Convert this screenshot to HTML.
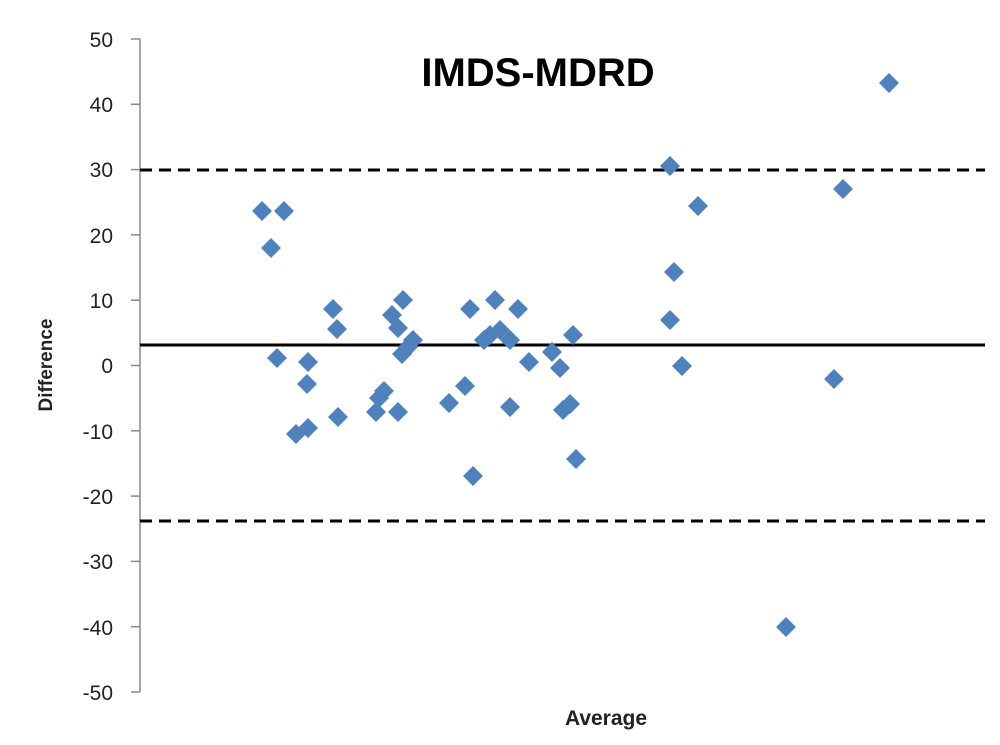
<!DOCTYPE html><html><head><style>body{margin:0;background:#fff}svg{display:block}</style></head><body>
<svg width="1000" height="745" xmlns="http://www.w3.org/2000/svg" font-family="Liberation Sans, sans-serif">
<defs><path id="d" d="M0,-10L10,0L0,10L-10,0Z" fill="#4f81bd"/></defs>
<line x1="140" y1="39" x2="140" y2="692" stroke="#888" stroke-width="1.5"/>
<g stroke="#888" stroke-width="1.5">
<line x1="131" y1="39" x2="140" y2="39"/><line x1="131" y1="104.3" x2="140" y2="104.3"/><line x1="131" y1="169.6" x2="140" y2="169.6"/><line x1="131" y1="234.9" x2="140" y2="234.9"/><line x1="131" y1="300.2" x2="140" y2="300.2"/><line x1="131" y1="365.5" x2="140" y2="365.5"/><line x1="131" y1="430.8" x2="140" y2="430.8"/><line x1="131" y1="496.1" x2="140" y2="496.1"/><line x1="131" y1="561.4" x2="140" y2="561.4"/><line x1="131" y1="626.7" x2="140" y2="626.7"/><line x1="131" y1="692" x2="140" y2="692"/></g>
<g font-size="21" fill="#222" text-anchor="end">
<text x="113" y="47">50</text><text x="113" y="112">40</text><text x="113" y="177">30</text><text x="113" y="243">20</text><text x="113" y="308">10</text><text x="113" y="373">0</text><text x="113" y="439">-10</text><text x="113" y="504">-20</text><text x="113" y="569">-30</text><text x="113" y="635">-40</text><text x="113" y="700">-50</text></g>
<line x1="140" y1="345" x2="985" y2="345" stroke="#000" stroke-width="3"/>
<line x1="140" y1="170" x2="985" y2="170" stroke="#000" stroke-width="3" stroke-dasharray="12,7"/>
<line x1="140" y1="521" x2="985" y2="521" stroke="#000" stroke-width="3" stroke-dasharray="12,7"/>
<text x="538" y="86" font-size="40" font-weight="bold" text-anchor="middle" fill="#000">IMDS-MDRD</text>
<text x="606" y="725" font-size="21" font-weight="bold" text-anchor="middle" fill="#222">Average</text>
<text transform="translate(52,365) rotate(-90)" font-size="19" font-weight="bold" text-anchor="middle" fill="#222">Difference</text>
<g>
<use href="#d" x="262" y="211"/><use href="#d" x="284" y="211"/><use href="#d" x="271" y="248"/><use href="#d" x="277" y="358"/><use href="#d" x="296" y="434"/><use href="#d" x="308" y="428"/><use href="#d" x="308" y="362"/><use href="#d" x="307" y="384"/><use href="#d" x="333" y="309"/><use href="#d" x="337" y="329"/><use href="#d" x="338" y="417"/><use href="#d" x="376" y="412"/><use href="#d" x="379" y="398"/><use href="#d" x="384" y="391"/><use href="#d" x="392" y="315"/><use href="#d" x="398" y="328"/><use href="#d" x="398" y="412"/><use href="#d" x="403" y="300"/><use href="#d" x="402" y="354"/><use href="#d" x="408" y="347"/><use href="#d" x="413" y="340"/><use href="#d" x="449" y="403"/><use href="#d" x="465" y="386"/><use href="#d" x="470" y="309"/><use href="#d" x="473" y="476"/><use href="#d" x="484" y="340"/><use href="#d" x="490" y="335"/><use href="#d" x="495" y="300"/><use href="#d" x="500" y="330"/><use href="#d" x="510" y="340"/><use href="#d" x="510" y="407"/><use href="#d" x="518" y="309"/><use href="#d" x="529" y="362"/><use href="#d" x="552" y="352"/><use href="#d" x="560" y="368"/><use href="#d" x="563" y="410"/><use href="#d" x="570" y="404"/><use href="#d" x="573" y="335"/><use href="#d" x="576" y="459"/><use href="#d" x="670" y="166"/><use href="#d" x="674" y="272"/><use href="#d" x="670" y="320"/><use href="#d" x="682" y="366"/><use href="#d" x="698" y="206"/><use href="#d" x="786" y="627"/><use href="#d" x="834" y="379"/><use href="#d" x="843" y="189"/><use href="#d" x="889" y="83"/>
</g>
</svg></body></html>
